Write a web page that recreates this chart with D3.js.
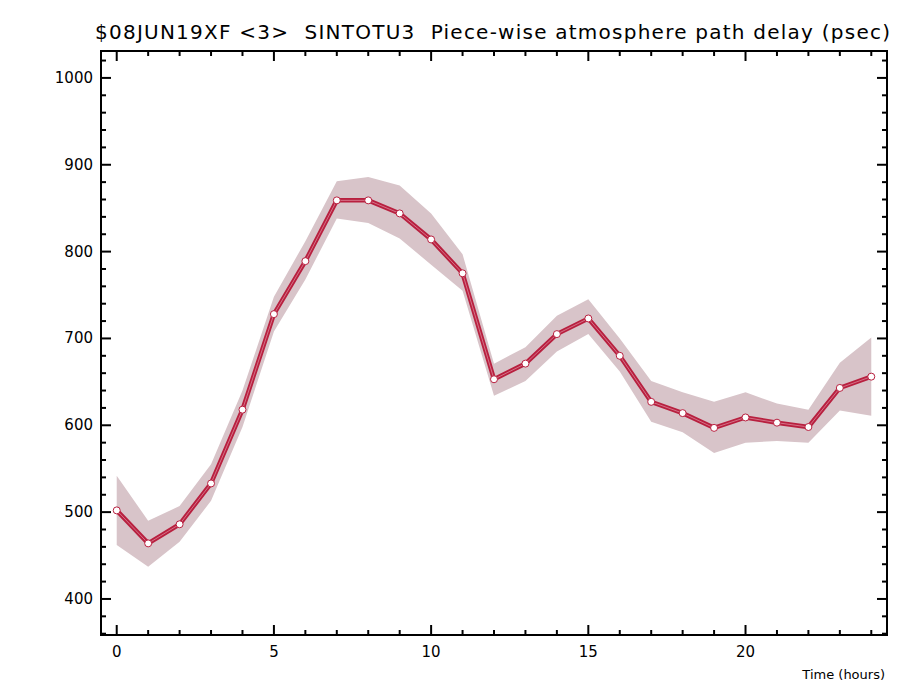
<!DOCTYPE html>
<html><head><meta charset="utf-8">
<script src="https://cdn.jsdelivr.net/npm/d3@7"></script>
<style>body{margin:0;background:#fff}</style></head>
<body><svg id="c" width="905" height="687"></svg>
<script>
const hours=[0,1,2,3,4,5,6,7,8,9,10,11,12,13,14,15,16,17,18,19,20,21,22,23,24];
const delay=[502,464,486,533,618,728,789,859,859,844,814,775,653,671,705,723,680,627,614,597,609,603,598,643,656];
const upper=[542,490,507,555,640,748,812,881,886,876,844,797,671,690,726,745,700,651,638,627,638,625,618,672,701];
const lower=[462,437,466,513,598,708,768,838,833,815,785,755,634,651,685,705,662,604,592,568,580,582,580,617,611];
const yTicks=[400,500,600,700,800,900,1000];
const xTicks=[0,5,10,15,20];
const title="$08JUN19XF <3>  SINTOTU3  Piece-wise atmosphere path delay (psec)";

const svg=d3.select("#c");
const L=101,R=887,T=51,B=635;
const x=d3.scaleLinear().domain([-0.5,24.5]).range([L,R]);
const y=d3.scaleLinear().domain([358.5,1031]).range([B,T]);
const font="DejaVu Sans, sans-serif";

svg.append("path").datum(hours).attr("fill","#d8c4c9")
 .attr("d",d3.area().x(d=>x(d)).y0((d,i)=>y(lower[i])).y1((d,i)=>y(upper[i])));
const line=d3.line().x(d=>x(d)).y((d,i)=>y(delay[i]));
svg.append("path").datum(hours).attr("fill","none").attr("stroke","#b8203f").attr("stroke-width",4.5).attr("d",line);
svg.append("path").datum(hours).attr("fill","none").attr("stroke","#e8a8b8").attr("stroke-width",0.6).attr("d",line);
svg.selectAll("circle").data(hours).join("circle").attr("cx",d=>x(d)).attr("cy",(d,i)=>y(delay[i]))
 .attr("r",3.5).attr("fill","#fff").attr("stroke","#b8203f").attr("stroke-width",1);

const g=svg.append("g").attr("stroke","#000").attr("stroke-width",2);
g.append("rect").attr("x",L).attr("y",T).attr("width",R-L).attr("height",B-T).attr("fill","none");
d3.range(360,1031,20).forEach(v=>{
 const len=v%100===0?10:5;
 g.append("line").attr("x1",L).attr("x2",L+len).attr("y1",y(v)).attr("y2",y(v));
 g.append("line").attr("x1",R).attr("x2",R-len).attr("y1",y(v)).attr("y2",y(v));
});
d3.range(0,25).forEach(h=>{
 const len=h%5===0?10:5;
 g.append("line").attr("y1",B).attr("y2",B-len).attr("x1",x(h)).attr("x2",x(h));
 g.append("line").attr("y1",T).attr("y2",T+len).attr("x1",x(h)).attr("x2",x(h));
});
svg.selectAll(".yl").data(yTicks).join("text").attr("x",L-8).attr("y",d=>y(d)+5)
 .attr("text-anchor","end").attr("font-family",font).attr("font-size",15).text(d=>d);
svg.selectAll(".xl").data(xTicks).join("text").attr("x",d=>x(d)).attr("y",B+22)
 .attr("text-anchor","middle").attr("font-family",font).attr("font-size",15).text(d=>d);
svg.append("text").attr("x",R-2).attr("y",679).attr("text-anchor","end").attr("font-family",font).attr("font-size",13).text("Time (hours)");
svg.append("text").attr("x",95).attr("y",39).attr("font-family",font).attr("font-size",20)
 .attr("textLength",795).attr("lengthAdjust","spacing").attr("xml:space","preserve").text(title);
</script></body></html>
